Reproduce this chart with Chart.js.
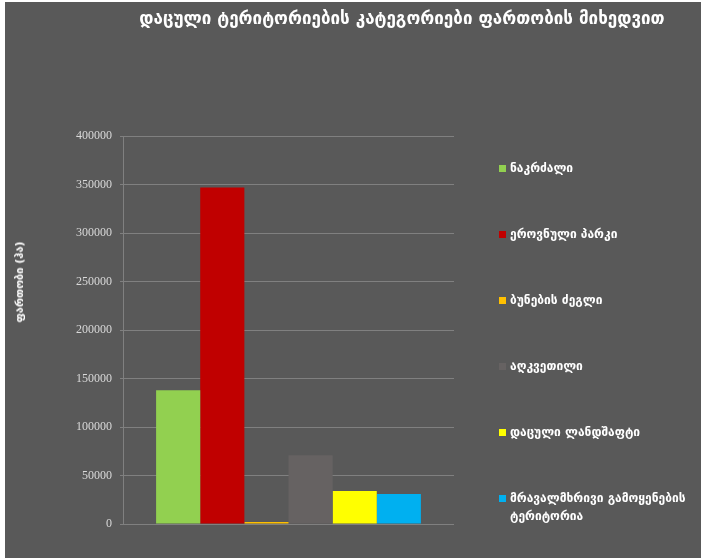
<!DOCTYPE html>
<html lang="ka">
<head>
<meta charset="utf-8">
<script src="https://cdn.jsdelivr.net/npm/chart.js@4.4.1/dist/chart.umd.min.js"></script>
<style>
  html, body { margin: 0; padding: 0; background: #ffffff; }
  #wrap { position: absolute; left: 5px; top: 2px; width: 696px; height: 556px; background: #595959; overflow: hidden; }
  #wrap canvas { position: absolute; left: 0; top: 0; }
  .txt { position: absolute; color: #ffffff; font-family: "DejaVu Sans", sans-serif; font-weight: bold; white-space: nowrap; }
  #title { left: 397px; top: 16px; font-size: 17px; line-height: 20px; transform: translate(-50%, -50%); }
  #ytitle { left: 15px; top: 280px; font-size: 11px; line-height: 14px; transform: translate(-50%, -50%) rotate(-90deg); }
  #legend { position: absolute; left: 494px; top: 157px; margin: 0; padding: 0; list-style: none; }
  #legend li { display: flex; align-items: flex-start; margin-bottom: 48px; color: #ffffff;
               font-family: "DejaVu Sans", sans-serif; font-weight: bold; font-size: 12px; line-height: 18px; white-space: nowrap; }
  #legend .box { width: 7px; height: 7px; margin-top: 6px; margin-right: 4px; flex: none; }
</style>
</head>
<body>
<div id="wrap">
  <canvas id="chart" width="696" height="556"></canvas>
  <div id="title" class="txt"></div>
  <div id="ytitle" class="txt"></div>
  <ul id="legend"></ul>
</div>
<script>
// chart texts
const chartTitle = 'დაცული ტერიტორიების კატეგორიები ფართობის მიხედვით';
const yAxisTitle = 'ფართობი (ჰა)';

// one category, one dataset per protected area type
const categories = [''];
const seriesNames = [
    'ნაკრძალი',
    'ეროვნული პარკი',
    'ბუნების ძეგლი',
    'აღკვეთილი',
    'დაცული ლანდშაფტი',
    'მრავალმხრივი გამოყენების\nტერიტორია'
];
const seriesValues = [138000, 347000, 2000, 71000, 34000, 31000];
const seriesColors = ['#92d050', '#c00000', '#ffc000', '#666262', '#ffff00', '#00b0f0'];

// y axis ticks
const yAxisMin = 0;
const yAxisMax = 400000;
const yAxisStep = 50000;

document.getElementById('title').textContent = chartTitle;
document.getElementById('ytitle').textContent = yAxisTitle;

const gridColor = '#808080';

const datasets = seriesNames.map((name, i) => ({
    label: name,
    data: [seriesValues[i]],
    backgroundColor: seriesColors[i],
    borderWidth: 0,
    categoryPercentage: 0.8,
    barPercentage: 1
}));

const chart = new Chart(document.getElementById('chart'), {
    type: 'bar',
    data: { labels: categories, datasets: datasets },
    options: {
        responsive: false,
        animation: false,
        layout: { padding: { top: 134, left: 63, right: 247, bottom: 34 } },
        plugins: {
            legend: { display: false },
            title: { display: false },
            tooltip: { enabled: false }
        },
        scales: {
            x: { display: false },
            y: {
                min: yAxisMin,
                max: yAxisMax,
                ticks: {
                    stepSize: yAxisStep,
                    padding: 8,
                    color: '#d9d9d9',
                    font: { family: 'Liberation Serif', size: 12 },
                    callback: (value) => String(value)
                },
                grid: { color: gridColor, tickLength: 3, lineWidth: 1 },
                border: { display: true, color: gridColor }
            }
        }
    }
});

// html legend built from the chart's own legend items
const legendList = document.getElementById('legend');
chart.options.plugins.legend.labels.generateLabels(chart).forEach((item) => {
    const li = document.createElement('li');
    const box = document.createElement('span');
    box.className = 'box';
    box.style.background = item.fillStyle;
    const text = document.createElement('span');
    item.text.split('\n').forEach((line, n) => {
        if (n) text.appendChild(document.createElement('br'));
        text.appendChild(document.createTextNode(line));
    });
    li.appendChild(box);
    li.appendChild(text);
    legendList.appendChild(li);
});
</script>
</body>
</html>
